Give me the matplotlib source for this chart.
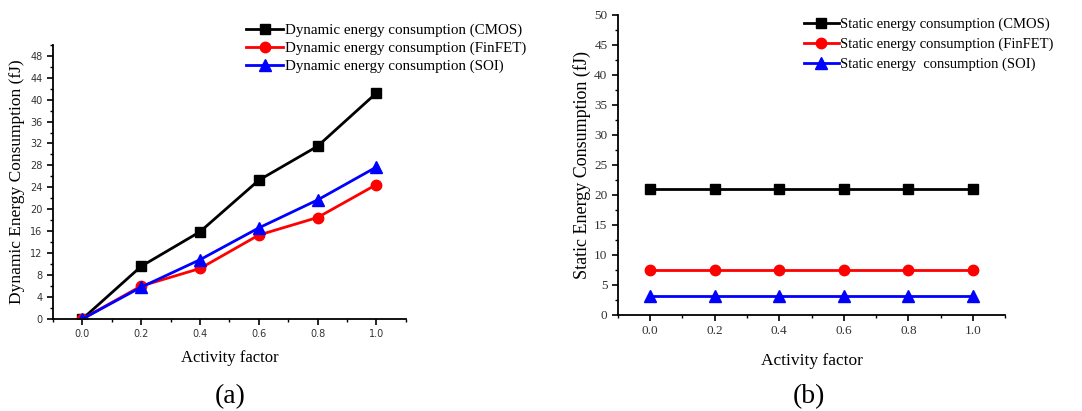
import numpy as np
import matplotlib.pyplot as plt
from matplotlib.ticker import MultipleLocator

# activity factor
activity = [0.0, 0.2, 0.4, 0.6, 0.8, 1.0]

# dynamic energy (fJ)
dyn_cmos = [0.0, 9.6, 15.9, 25.3, 31.5, 41.2]
dyn_finfet = [0.0, 6.0, 9.2, 15.3, 18.5, 24.5]
dyn_soi = [0.0, 5.8, 10.8, 16.6, 21.7, 27.7]

# static energy (fJ)
sta_cmos = [21.0, 21.0, 21.0, 21.0, 21.0, 21.0]
sta_finfet = [7.5, 7.5, 7.5, 7.5, 7.5, 7.5]
sta_soi = [3.2, 3.2, 3.2, 3.2, 3.2, 3.2]

dyn_labels = ['Dynamic energy consumption (CMOS)',
              'Dynamic energy consumption (FinFET)',
              'Dynamic energy consumption (SOI)']
sta_labels = ['Static energy consumption (CMOS)',
              'Static energy consumption (FinFET)',
              'Static energy  consumption (SOI)']

serif = 'Liberation Serif'
fig = plt.figure(figsize=(10.82, 4.11), dpi=100)

ax1 = fig.add_axes([0.049, 0.224, 0.326, 0.667])
ax2 = fig.add_axes([0.571, 0.234, 0.358, 0.730])

styles = [('black', 's', 7), ('red', 'o', 7.5), ('blue', '^', 9)]

for ax, data, labels in [(ax1, [dyn_cmos, dyn_finfet, dyn_soi], dyn_labels),
                         (ax2, [sta_cmos, sta_finfet, sta_soi], sta_labels)]:
    for (c, m, ms), y, lab in zip(styles, data, labels):
        ax.plot(activity, y, color=c, marker=m, markersize=ms, linewidth=2, label=lab)
    ax.spines['top'].set_visible(False)
    ax.spines['right'].set_visible(False)
    ax.spines['left'].set_linewidth(1.3)
    ax.spines['bottom'].set_linewidth(1.3)
    ax.set_xlim(-0.1, 1.1)
    ax.set_xticks(activity)
    ax.set_xticklabels(['%.1f' % a for a in activity])
    ax.xaxis.set_minor_locator(MultipleLocator(0.1))
    ax.tick_params(which='major', direction='out', length=4, width=1.2,
                   labelsize=7, labelcolor='#333333')
    ax.tick_params(which='minor', direction='out', length=2.5, width=1)

# (a)
ax1.set_ylim(0, 50)
ax1.set_yticks(np.arange(0, 49, 4))
ax1.yaxis.set_minor_locator(MultipleLocator(2))
ax1.set_ylabel('Dynamic Energy Consumption (fJ)', family=serif, fontsize=12.5, labelpad=4)
ax1.set_xlabel('Activity factor', family=serif, fontsize=12, labelpad=8)
ax1.legend(loc='upper left', bbox_to_anchor=(0.53, 1.10), frameon=False,
           prop={'family': serif, 'size': 10.8}, handlelength=2.5,
           handletextpad=0.1, labelspacing=0.3, borderaxespad=0)

# (b)
ax2.set_ylim(0, 50)
ax2.set_yticks(np.arange(0, 51, 5))
ax2.yaxis.set_minor_locator(MultipleLocator(2.5))
ax2.tick_params(axis='both', labelsize=9.5)
for t in ax2.get_xticklabels() + ax2.get_yticklabels():
    t.set_family(serif)
ax2.set_ylabel('Static Energy Consumption (fJ)', family=serif, fontsize=13, labelpad=2)
ax2.set_xlabel('Activity factor', family=serif, fontsize=12.5, labelpad=11)
ax2.legend(loc='upper left', bbox_to_anchor=(0.465, 1.01), frameon=False,
           prop={'family': serif, 'size': 10.5}, handlelength=2.4,
           handletextpad=0.1, labelspacing=0.45, borderaxespad=0)

fig.text(0.213, 0.02, '(a)', family=serif, fontsize=20, ha='center')
fig.text(0.748, 0.02, '(b)', family=serif, fontsize=20, ha='center')

fig.savefig('out.png', dpi=100)
